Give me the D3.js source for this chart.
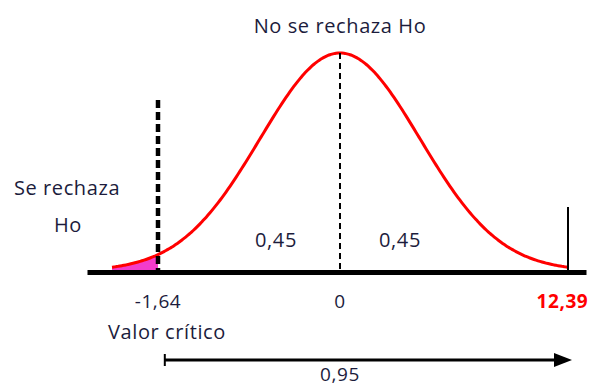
<!DOCTYPE html>
<html>
<head>
<meta charset="utf-8">
<script src="https://cdn.jsdelivr.net/npm/d3@7"></script>
<style>
  html, body { margin: 0; padding: 0; background: #fff; }
  svg { display: block; }
  text { font-family: "Open Sans", "Noto Sans", sans-serif; fill: #1c1c3c; letter-spacing: 0.6px; }
</style>
</head>
<body>
<svg id="chart" width="600" height="387"></svg>
<script>
// ---- data (standard-normal units as drawn) ----
const curveDomain = [-2.85, 2.85];          // drawn extent of the bell curve
const criticalZ = -2.275;                    // position of the dashed critical line as drawn
const centerZ = 0;
const rightEdgeZ = 2.85;
const tickPositions = [-2.275, 0, 2.78];
const tickLabels = ["-1,64", "0", "12,39"];
const areaLabelPositions = [-0.8, 0.75];
const areaLabels = ["0,45", "0,45"];
const titleText = "No se rechaza Ho";
const rejectText = ["Se rechaza", "Ho"];
const criticalText = "Valor crítico";
const confidenceText = "0,95";
const arrowRange = [-2.19, 2.9];

const svg = d3.select("#chart");

const x = d3.scaleLinear().domain([-3.1625, 3.075]).range([87, 586]);
const pdf = z => Math.exp(-z * z / 2) / Math.sqrt(2 * Math.PI);
const y = d3.scaleLinear().domain([0, pdf(0)]).range([271, 53]);

const pts = d3.range(curveDomain[0], curveDomain[1] + 1e-9, 0.025).map(z => [z, pdf(z)]);

// rejection-region fill
const tail = pts.filter(p => p[0] <= criticalZ + 1e-9).concat([[criticalZ, pdf(criticalZ)]]);
svg.append("path")
  .datum(tail)
  .attr("d", d3.area().x(d => x(d[0])).y0(y(0)).y1(d => y(d[1]) - 1))
  .attr("fill", "#f23ccb");

// curve
svg.append("path")
  .datum(pts)
  .attr("d", d3.line().x(d => x(d[0])).y(d => y(d[1])).curve(d3.curveBasis))
  .attr("fill", "none")
  .attr("stroke", "#ff0000")
  .attr("stroke-width", 3);

// baseline axis
const axis = d3.axisBottom(x).tickValues([]).tickSizeOuter(0);
const ag = svg.append("g").attr("transform", `translate(0,${y(0) + 1})`).call(axis);
ag.select(".domain").attr("stroke", "#000").attr("stroke-width", 5);

// critical dashed line
svg.append("line")
  .attr("x1", x(criticalZ)).attr("x2", x(criticalZ))
  .attr("y1", 100).attr("y2", y(0))
  .attr("stroke", "#000").attr("stroke-width", 4.5)
  .attr("stroke-dasharray", "8,4");

// center dashed line
svg.append("line")
  .attr("x1", x(centerZ)).attr("x2", x(centerZ))
  .attr("y1", y(pdf(0))).attr("y2", y(0))
  .attr("stroke", "#000").attr("stroke-width", 2)
  .attr("stroke-dasharray", "6,4");

// right solid line
svg.append("line")
  .attr("x1", x(rightEdgeZ)).attr("x2", x(rightEdgeZ))
  .attr("y1", 207).attr("y2", y(0))
  .attr("stroke", "#000").attr("stroke-width", 2);

// tick labels
svg.selectAll("text.tick-label")
  .data(tickLabels)
  .join("text")
  .attr("class", "tick-label")
  .attr("x", (d, i) => x(tickPositions[i]))
  .attr("y", 308)
  .attr("text-anchor", "middle")
  .style("font-size", "19px")
  .style("font-weight", (d, i) => i === 2 ? "bold" : "normal")
  .style("fill", (d, i) => i === 2 ? "#ff0000" : null)
  .text(d => d);

// area labels
svg.selectAll("text.area-label")
  .data(areaLabels)
  .join("text")
  .attr("class", "area-label")
  .attr("x", (d, i) => x(areaLabelPositions[i]))
  .attr("y", 247)
  .attr("text-anchor", "middle")
  .style("font-size", "20px")
  .text(d => d);

// title
svg.append("text")
  .attr("x", x(0)).attr("y", 33)
  .attr("text-anchor", "middle")
  .style("font-size", "20px")
  .text(titleText);

// reject labels
svg.append("text").attr("x", 67).attr("y", 195).attr("text-anchor", "middle")
  .style("font-size", "20px").text(rejectText[0]);
svg.append("text").attr("x", 68).attr("y", 232).attr("text-anchor", "middle")
  .style("font-size", "20px").text(rejectText[1]);

// critical value label
svg.append("text").attr("x", 108).attr("y", 339)
  .style("font-size", "20px").text(criticalText);

// arrow
const ay = 360;
svg.append("line")
  .attr("x1", x(arrowRange[0])).attr("x2", x(arrowRange[1]) - 12)
  .attr("y1", ay).attr("y2", ay)
  .attr("stroke", "#000").attr("stroke-width", 3);
svg.append("line")
  .attr("x1", x(arrowRange[0])).attr("x2", x(arrowRange[0]))
  .attr("y1", ay - 6).attr("y2", ay + 6)
  .attr("stroke", "#000").attr("stroke-width", 2);
const ax = x(arrowRange[1]);
svg.append("path")
  .attr("d", `M${ax},${ay} L${ax - 18},${ay - 7} L${ax - 18},${ay + 7} Z`)
  .attr("fill", "#000");

svg.append("text").attr("x", x(0)).attr("y", 381).attr("text-anchor", "middle")
  .style("font-size", "19px").text(confidenceText);
</script>
</body>
</html>
